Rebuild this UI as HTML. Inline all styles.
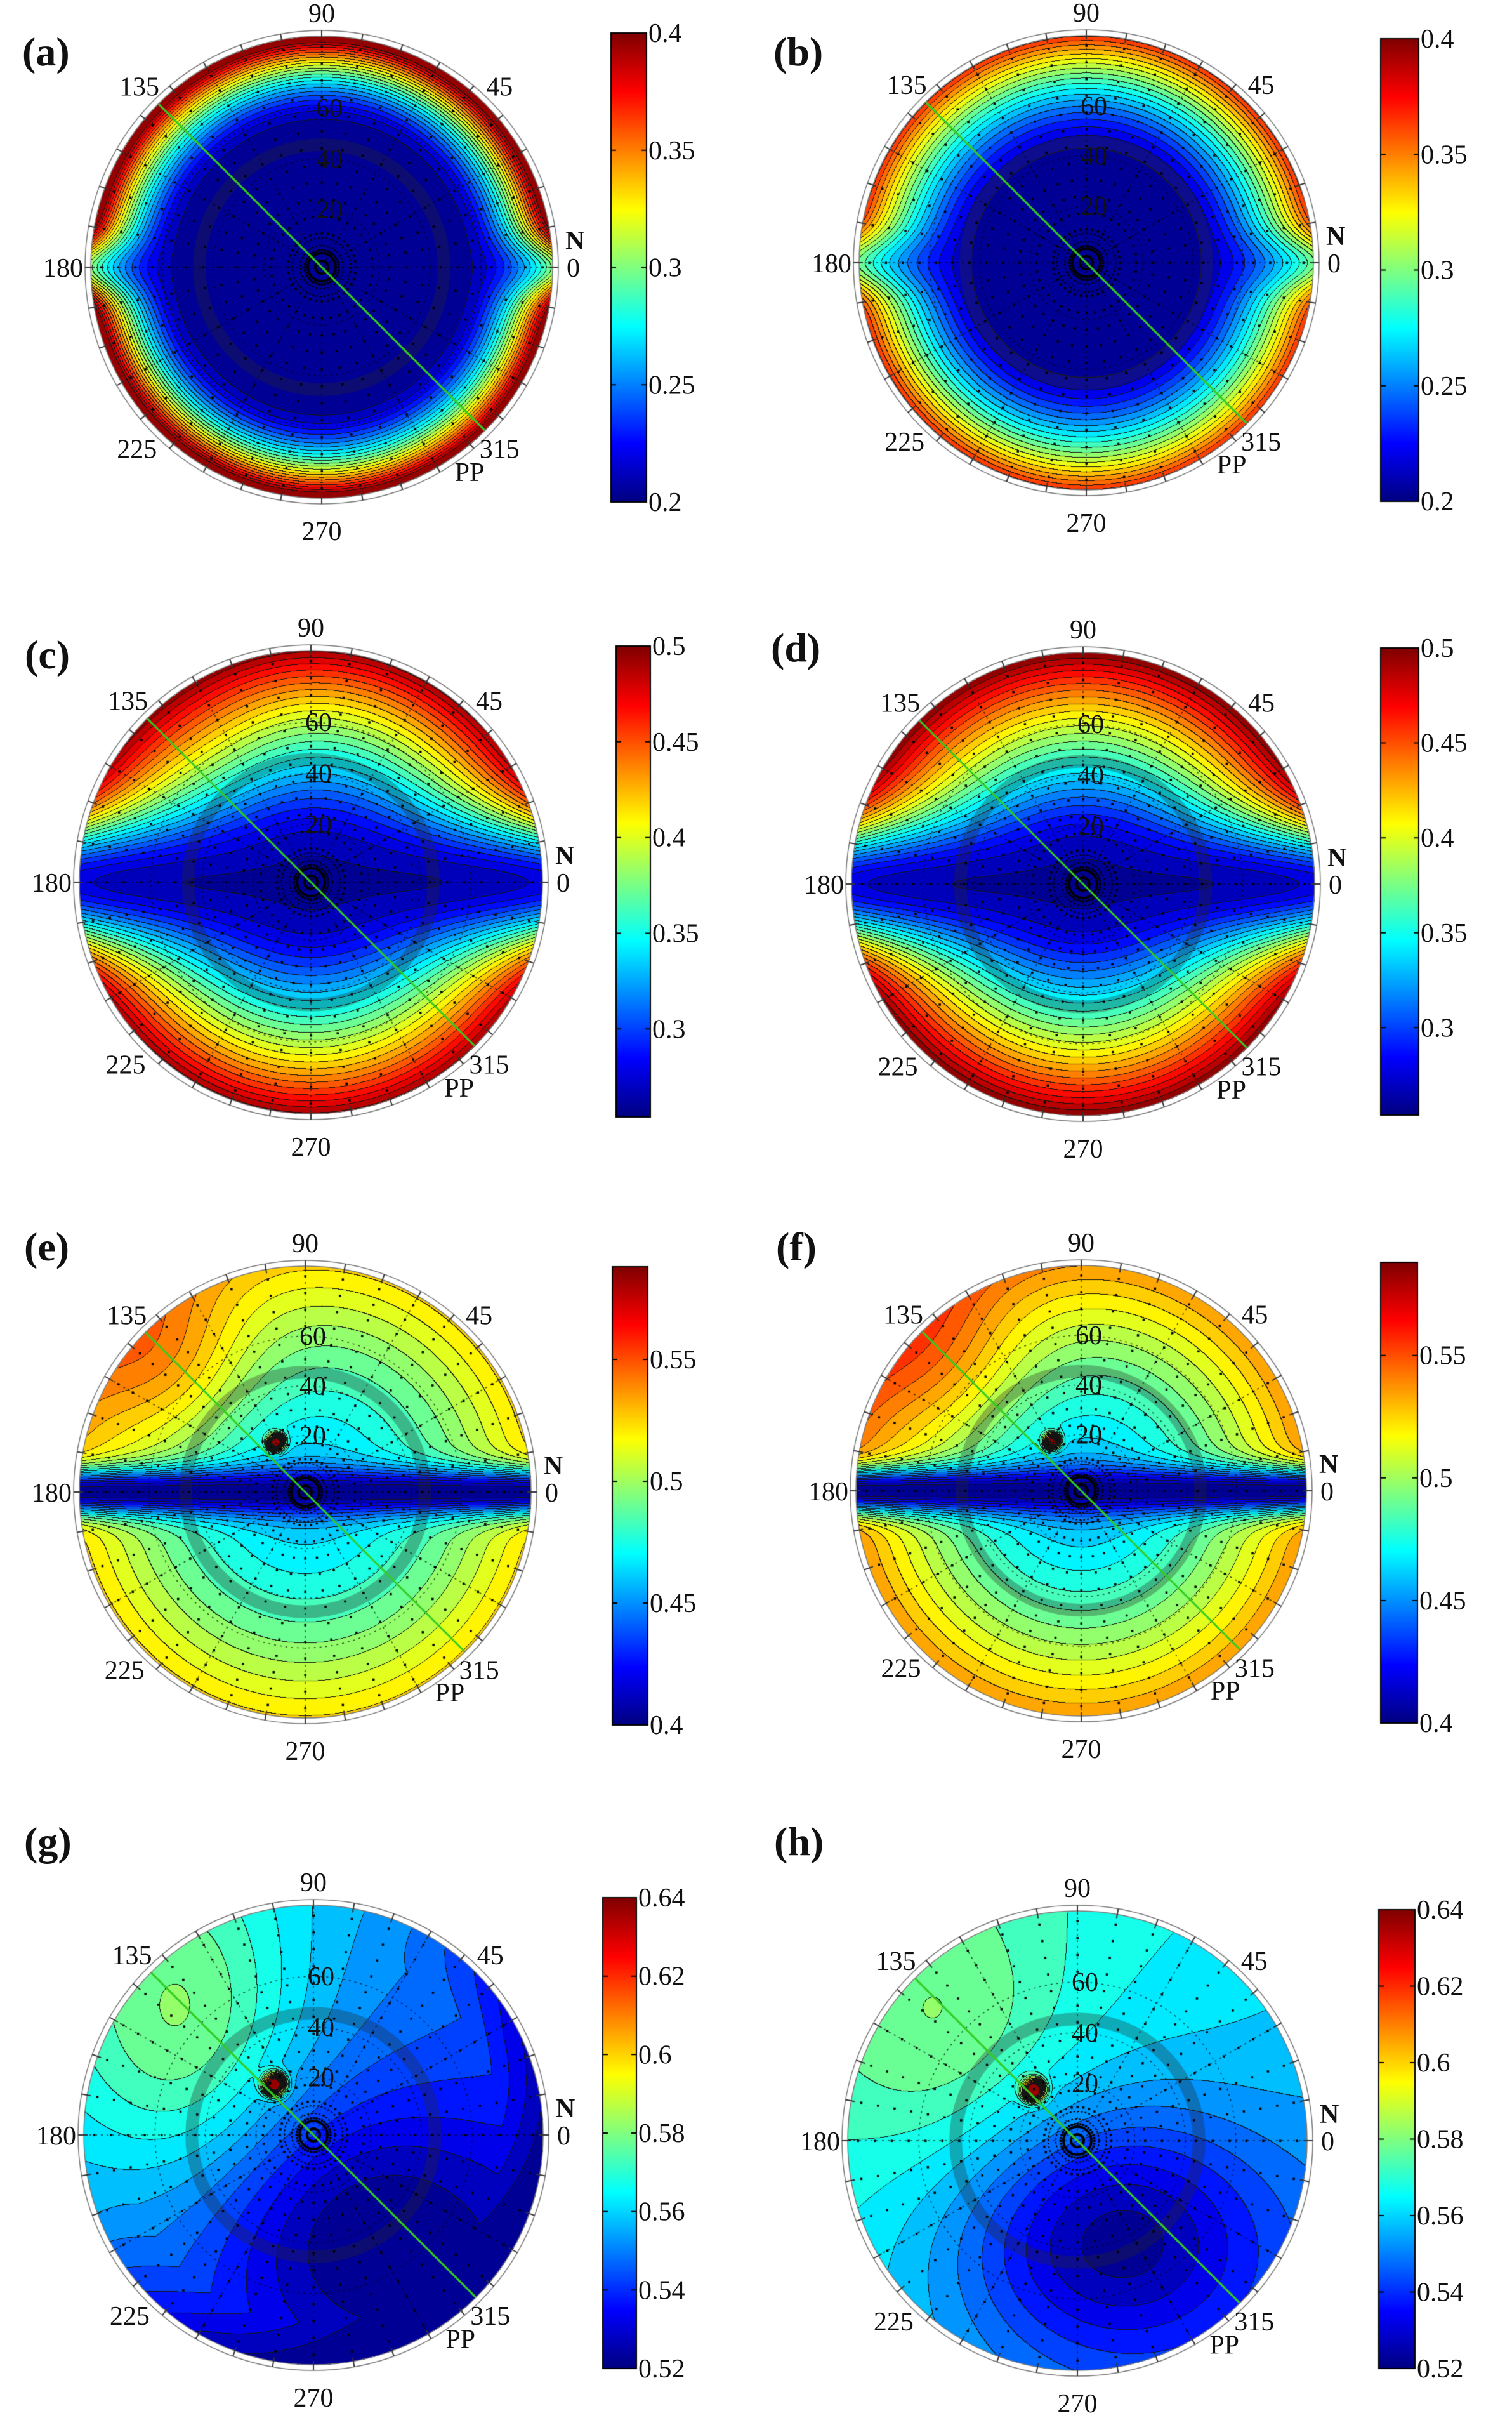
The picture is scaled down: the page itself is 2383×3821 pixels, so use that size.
<!DOCTYPE html>
<html><head><meta charset="utf-8">
<style>
html,body{margin:0;padding:0;background:#fff;}
#wrap{position:relative;width:2383px;height:3821px;overflow:hidden;}
canvas,svg{position:absolute;left:0;top:0;}
text{font-family:"Liberation Serif",serif;fill:#111;}
</style></head><body>
<div id="wrap">
<canvas id="cv" width="2383" height="3821"></canvas>
<svg id="sv" width="2383" height="3821" viewBox="0 0 2383 3821"></svg>
</div>
<script>
function cl(v){return v<0?0:v>1?1:v;}
function jet(t){t=cl(t);return [cl(1.5-Math.abs(4*t-3)),cl(1.5-Math.abs(4*t-2)),cl(1.5-Math.abs(4*t-1))].map(v=>Math.round(v*255));}
function g2(x,y,x0,y0,s){return Math.exp(-((x-x0)*(x-x0)+(y-y0)*(y-y0))/s);}
function ge(x,y,x0,y0,sx,sy){return Math.exp(-((x-x0)*(x-x0)/sx+(y-y0)*(y-y0)/sy));}
var P=[
{n:'a',cx:507,cy:421,r:364,cb:[963,52,1019,791],rg:[0.2,0.4],tk:[0.2,0.25,0.3,0.35,0.4],lb:[35,103],lv:24,
 f:function(x,y,rho){var t=cl((rho-0.62)/0.38);var side=1-0.55*Math.exp(-(y/0.13)*(y/0.13));return 0.2+0.01*rho+0.205*Math.pow(t,1.6)*side;}},
{n:'b',cx:1712,cy:414,r:358,cb:[2176,61,2236,790],rg:[0.2,0.4],tk:[0.2,0.25,0.3,0.35,0.4],lb:[1219,103],lv:24,
 f:function(x,y,rho){var t=cl((rho-0.5)/0.5);var side=1-0.45*Math.exp(-(y/0.13)*(y/0.13));return 0.203+0.01*rho+0.155*Math.pow(t,1.4)*side;}},
{n:'c',cx:490,cy:1390,r:365,cb:[971,1018,1025,1760],rg:[0.254,0.5],tk:[0.3,0.35,0.4,0.45,0.5],lb:[39,1053],lv:26,
 f:function(x,y,rho){var h=Math.pow(rho,1.5)*(1-Math.exp(-(y/0.28)*(y/0.28)))*0.92+0.06*Math.pow(rho,4);return 0.262+0.235*h+0.01*g2(x,y,-0.4,0.6,0.1);}},
{n:'d',cx:1707,cy:1393,r:365,cb:[2176,1021,2236,1757],rg:[0.254,0.5],tk:[0.3,0.35,0.4,0.45,0.5],lb:[1215,1042],lv:26,
 f:function(x,y,rho){var h=Math.pow(rho,1.4)*(1-Math.exp(-(y/0.27)*(y/0.27)))*0.93+0.06*Math.pow(rho,4);return 0.262+0.24*h;}},
{n:'e',cx:481,cy:2351,r:356,cb:[965,1996,1021,2718],rg:[0.4,0.588],tk:[0.4,0.45,0.5,0.55],lb:[38,1986],lv:26,
 f:function(x,y,rho){var b=0.458+0.066*Math.pow(rho,1.5)+0.03*g2(x,y,-0.6,0.55,0.15)*(y>0?1:0);var bf=1-Math.exp(-(y/0.1)*(y/0.1));return 0.4+(b-0.4)*bf+0.14*g2(x,y,-0.13,0.22,0.0012);}},
{n:'f',cx:1704,cy:2349,r:355,cb:[2176,1989,2234,2715],rg:[0.4,0.588],tk:[0.4,0.45,0.5,0.55],lb:[1223,1986],lv:26,
 f:function(x,y,rho){var b=0.455+0.082*Math.pow(rho,1.5)+0.025*g2(x,y,-0.6,0.55,0.15)*(y>0?1:0);var bf=1-Math.exp(-(y/0.1)*(y/0.1));return 0.4+(b-0.4)*bf+0.12*g2(x,y,-0.13,0.22,0.0012);}},
{n:'g',cx:494,cy:3364,r:362,cb:[950,2990,1003,3732],rg:[0.52,0.64],tk:[0.52,0.54,0.56,0.58,0.6,0.62,0.64],lb:[38,2923],lv:24,
 f:function(x,y,rho){var v=0.547+0.009*(y-x)+0.024*ge(x,y,-0.55,0.45,0.25,0.5)-0.022*ge(x,y,0.2,-0.4,0.45,0.3)-0.012*cl((rho-0.82)/0.18)*cl(0.6+x-y);return v+0.1*g2(x,y,-0.17,0.22,0.002);}},
{n:'h',cx:1698,cy:3373,r:362,cb:[2173,3009,2230,3732],rg:[0.52,0.64],tk:[0.52,0.54,0.56,0.58,0.6,0.62,0.64],lb:[1220,2923],lv:24,
 f:function(x,y,rho){var v=0.562+0.006*(y-x)+0.012*ge(x,y,-0.55,0.45,0.25,0.35)-0.036*ge(x,y,0.15,-0.42,0.45,0.3);return v+0.1*g2(x,y,-0.19,0.22,0.002);}}
];
var cv=document.getElementById('cv'),ctx=cv.getContext('2d');
ctx.fillStyle='#fff';ctx.fillRect(0,0,2383,3821);
var svg='';
P.forEach(function(p){
 var r=p.r,S=2*r+2,x0=p.cx-r-1,y0=p.cy-r-1;
 var img=ctx.getImageData(x0,y0,S,S),d=img.data;
 var q=new Int16Array(S*S),vmin=p.rg[0],vmax=p.rg[1],L=p.lv;
 for(var j=0;j<S;j++)for(var i=0;i<S;i++){
  var x=(i-r-1)/r,y=-(j-r-1)/r,rho=Math.sqrt(x*x+y*y);
  if(rho>1){q[j*S+i]=-999;continue;}
  var t=(p.f(x,y,rho)-vmin)/(vmax-vmin);q[j*S+i]=Math.max(0,Math.min(L-1,Math.floor(t*L)));
 }
 for(var j=1;j<S-1;j++)for(var i=1;i<S-1;i++){
  var k=j*S+i,v=q[k];if(v==-999)continue;
  var o=(j*S+i)*4,c;
  if(q[k+1]!=v&&q[k+1]!=-999||q[k+S]!=v&&q[k+S]!=-999)c=[20,20,20];
  else c=jet((v+0.5)/L);
  d[o]=c[0];d[o+1]=c[1];d[o+2]=c[2];d[o+3]=255;
 }
 ctx.putImageData(img,x0,y0);
 var cx=p.cx,cy=p.cy;
 ctx.strokeStyle='rgba(40,40,40,0.33)';ctx.lineWidth=20;ctx.beginPath();ctx.arc(cx,cy,0.53*r,0,7);ctx.stroke();
 ctx.strokeStyle='rgba(0,0,0,0.7)';ctx.lineWidth=1.5;ctx.setLineDash([3,6]);
 [0.25,0.47,0.69].forEach(function(f){ctx.beginPath();ctx.arc(cx,cy,f*r,0,7);ctx.stroke();});
 for(var a=0;a<180;a+=30){var c1=Math.cos(a*Math.PI/180),s1=Math.sin(a*Math.PI/180);ctx.beginPath();ctx.moveTo(cx-c1*r,cy+s1*r);ctx.lineTo(cx+c1*r,cy-s1*r);ctx.stroke();}
 ctx.setLineDash([]);
 ctx.fillStyle='#000';
 for(var k=1;k<=13;k++){var rr=r*k/13.6;for(var a=0;a<360;a+=10){var an=a*Math.PI/180;ctx.fillRect(cx+rr*Math.cos(an)-1.5,cy-rr*Math.sin(an)-1.5,3.5,3.5);}}
 ctx.strokeStyle='#000';ctx.lineWidth=4;[10,22].forEach(function(rr){ctx.beginPath();ctx.arc(cx,cy,rr,0,7);ctx.stroke();});
 ctx.lineWidth=2;ctx.setLineDash([3,3]);[34,46].forEach(function(rr){ctx.beginPath();ctx.arc(cx,cy,rr,0,7);ctx.stroke();});ctx.setLineDash([]);
 ctx.strokeStyle='#33cc22';ctx.lineWidth=3;ctx.beginPath();ctx.moveTo(cx-r*0.707,cy-r*0.707);ctx.lineTo(cx+r*0.707,cy+r*0.707);ctx.stroke();
 ctx.strokeStyle='#777';ctx.lineWidth=1.5;ctx.beginPath();ctx.arc(cx,cy,r,0,7);ctx.stroke();
 ctx.beginPath();ctx.arc(cx,cy,r+9,0,7);ctx.stroke();
 ctx.strokeStyle='#333';ctx.lineWidth=2;
 for(var a=0;a<360;a+=10){var an=a*Math.PI/180;ctx.beginPath();ctx.moveTo(cx+(r-6)*Math.cos(an),cy-(r-6)*Math.sin(an));ctx.lineTo(cx+(r+9)*Math.cos(an),cy-(r+9)*Math.sin(an));ctx.stroke();}
 var b=p.cb,H=b[3]-b[1];
 for(var yy=0;yy<H;yy++){var c=jet(1-yy/H);ctx.fillStyle='rgb('+c+')';ctx.fillRect(b[0],b[1]+yy,b[2]-b[0],1);}
 ctx.strokeStyle='#000';ctx.lineWidth=2;ctx.strokeRect(b[0],b[1],b[2]-b[0],H);
 p.tk.forEach(function(t){var yy=b[3]-(t-vmin)/(vmax-vmin)*H;ctx.beginPath();ctx.moveTo(b[0],yy);ctx.lineTo(b[0]+8,yy);ctx.moveTo(b[2],yy);ctx.lineTo(b[2]-8,yy);ctx.stroke();
  svg+='<text x="'+(b[2]+3)+'" y="'+(yy+14)+'" font-size="42">'+t+'</text>';});
 var fs=42;
 svg+='<text x="'+p.lb[0]+'" y="'+p.lb[1]+'" font-size="64" font-weight="bold">('+p.n+')</text>';
 function T(x,y,s,anc,ex){svg+='<text x="'+x+'" y="'+y+'" font-size="'+fs+'" text-anchor="'+(anc||'middle')+'"'+(ex||'')+'>'+s+'</text>';}
 T(cx,cy-r-22,'90');T(cx,cy+r+66,'270');
 T(cx-r-12,cy+15,'180','end');T(cx+r+22,cy+15,'0','start');
 T(cx+r+20,cy-28,'N','start',' font-weight="bold"');
 T(cx-0.79*r,cy-0.785*r+15,'135');T(cx+0.77*r,cy-0.785*r+15,'45');
 T(cx-0.8*r,cy+0.785*r+15,'225');T(cx+0.77*r,cy+0.785*r+15,'315');
 T(cx+0.64*r,cy+0.885*r+15,'PP');
 T(cx+12,cy-0.69*r+14,'60');T(cx+12,cy-0.47*r+14,'40');T(cx+12,cy-0.25*r+14,'20');
});
document.getElementById('sv').innerHTML=svg;
</script>
</body></html>
